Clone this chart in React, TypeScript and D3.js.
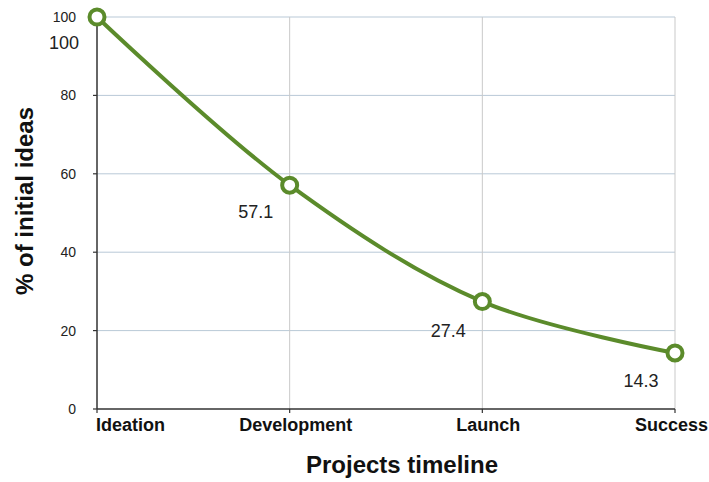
import React from "react";
import * as d3 from "d3";

const stages = ["Ideation", "Development", "Launch", "Success"];
const shares = [100, 57.1, 27.4, 14.3];
const yTicks = [0, 20, 40, 60, 80, 100];

const W = 709;
const H = 482;
const margin = { left: 97, right: 34, top: 17, bottom: 73 };
const green = "#5b8b2b";
const font = "'Liberation Sans', Arial, Helvetica, sans-serif";

const App = () => {
  const x = d3.scalePoint<string>()
    .domain(stages)
    .range([margin.left, W - margin.right]);
  const y = d3.scaleLinear()
    .domain([0, 100])
    .range([H - margin.bottom, margin.top]);

  const pts: [number, number][] = stages.map((s, i) => [x(s) as number, y(shares[i])]);
  const line = d3.line().curve(d3.curveCatmullRom.alpha(0.5))(pts) || "";

  // label offsets (relative to each point), roughly as placed in the original
  const labelPos = [
    { dx: -33, dy: 32 },
    { dx: -34, dy: 33 },
    { dx: -34, dy: 35 },
    { dx: -34, dy: 34 },
  ];

  const y0 = y(0);

  return (
    <svg width={W} height={H} style={{ position: "absolute", left: 0, top: 0, background: "#fff" }} fontFamily={font}>
      {/* horizontal grid */}
      {yTicks.filter((t) => t > 0).map((t) => (
        <line key={`h${t}`} x1={margin.left} x2={W - margin.right} y1={y(t)} y2={y(t)} stroke="#b9c9d7" strokeWidth={1} />
      ))}
      {/* vertical grid */}
      {stages.slice(1).map((s) => (
        <line key={`v${s}`} x1={x(s)} x2={x(s)} y1={margin.top} y2={y0} stroke="#c9c9c9" strokeWidth={1} />
      ))}

      {/* axes */}
      <line x1={margin.left} x2={margin.left} y1={margin.top} y2={y0} stroke="#333" strokeWidth={1.5} />
      <line x1={margin.left} x2={W - margin.right} y1={y0} y2={y0} stroke="#333" strokeWidth={1.5} />
      {yTicks.map((t) => (
        <g key={`yt${t}`}>
          <line x1={margin.left - 4} x2={margin.left} y1={y(t)} y2={y(t)} stroke="#333" strokeWidth={1.2} />
          <text x={margin.left - 21} y={y(t)} dy="0.35em" textAnchor="end" fontSize={14} fill="#222">{t}</text>
        </g>
      ))}
      {stages.map((s, i) => {
        const xx = x(s) as number;
        const anchor = i === 0 ? "start" : i === stages.length - 1 ? "end" : "middle";
        const tx = i === 0 ? xx - 1 : i === stages.length - 1 ? W - 1 : xx + 6;
        return (
          <g key={`xt${s}`}>
            <line x1={xx} x2={xx} y1={y0} y2={y0 + 4} stroke="#333" strokeWidth={1.2} />
            <text x={tx} y={y0 + 22} textAnchor={anchor} fontSize={18} fontWeight="bold" fill="#111">{s}</text>
          </g>
        );
      })}

      {/* axis titles */}
      <text x={402} y={473} textAnchor="middle" fontSize={24} fontWeight="bold" fill="#111">Projects timeline</text>
      <text transform={`translate(33,201) rotate(-90)`} textAnchor="middle" fontSize={24} fontWeight="bold" fill="#111">% of initial ideas</text>

      {/* series */}
      <path d={line} fill="none" stroke={green} strokeWidth={4} />
      {pts.map(([px, py], i) => (
        <circle key={`c${i}`} cx={px} cy={py} r={7.5} fill="#fff" stroke={green} strokeWidth={4} />
      ))}
      {pts.map(([px, py], i) => (
        <text key={`l${i}`} x={px + labelPos[i].dx} y={py + labelPos[i].dy} textAnchor="middle" fontSize={18} fill="#222">
          {shares[i]}
        </text>
      ))}
    </svg>
  );
};

export default App;
